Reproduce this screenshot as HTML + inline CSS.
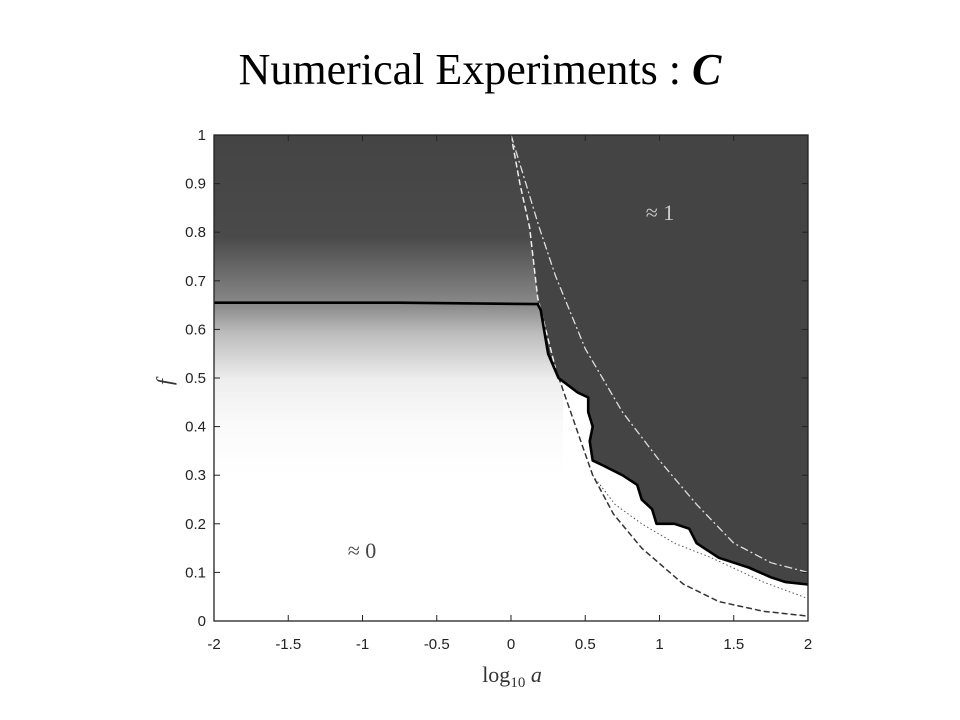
<!DOCTYPE html>
<html><head><meta charset="utf-8"><style>
body{margin:0;background:#fff;width:960px;height:720px;overflow:hidden}
svg{display:block}
.tk{font-family:"Liberation Sans",sans-serif;font-size:15px;fill:#222}
</style></head><body>
<svg id="chart" width="960" height="720" xmlns="http://www.w3.org/2000/svg">
<defs>
<linearGradient id="g" x1="0" y1="0" x2="0" y2="1">
<stop offset="0" stop-color="#444"/>
<stop offset="0.3" stop-color="#4a4a4a"/>
<stop offset="0.5" stop-color="#8a8a8a"/>
<stop offset="0.58" stop-color="#bbb"/>
<stop offset="0.72" stop-color="#eee"/>
<stop offset="0.85" stop-color="#fafafa"/>
<stop offset="1" stop-color="#fff"/>
</linearGradient>
</defs>
<text x="480" y="84" text-anchor="middle" font-family="Liberation Serif,serif" font-size="44">Numerical Experiments : <tspan font-weight="bold" font-style="italic">C</tspan></text>
<g id="plot"></g>
</svg>
<script>
const xTicks=[-2,-1.5,-1,-0.5,0,0.5,1,1.5,2];
const yTicks=[0,0.1,0.2,0.3,0.4,0.5,0.6,0.7,0.8,0.9,1];
const boundaryX=[-2,-0.75,0.18,0.2,0.25,0.32,0.45,0.52,0.52,0.55,0.53,0.55,0.62,0.75,0.85,0.88,0.95,0.98,1.1,1.2,1.25,1.3,1.4,1.5,1.6,1.75,1.85,2];
const boundaryF=[0.655,0.655,0.652,0.64,0.55,0.5,0.47,0.46,0.43,0.40,0.37,0.33,0.32,0.30,0.28,0.25,0.23,0.2,0.2,0.19,0.16,0.15,0.13,0.12,0.11,0.09,0.08,0.075];
const dashedX=[0,0.06,0.125,0.18,0.3,0.47,0.55,0.69,0.88,1.16,1.4,1.7,2];
const dashedF=[1,0.9,0.81,0.665,0.52,0.37,0.30,0.22,0.15,0.076,0.04,0.02,0.01];
const dashDotX=[0,0.1,0.19,0.3,0.5,0.75,1,1.25,1.5,1.75,2];
const dashDotF=[1,0.9,0.81,0.71,0.56,0.43,0.33,0.24,0.16,0.12,0.1];
const dottedX=[0.55,0.7,0.88,1.1,1.35,1.7,2];
const dottedF=[0.30,0.24,0.2,0.16,0.13,0.08,0.046];
const L=214,R=808,T=135,B=621;
const sx=v=>L+(v+2)/4*(R-L), sy=v=>B-v*(B-T);
const NS="http://www.w3.org/2000/svg", g=document.getElementById('plot');
function mk(t,a,p){const e=document.createElementNS(NS,t);for(const k in a)e.setAttribute(k,a[k]);(p||g).appendChild(e);return e;}
const pts=(xs,fs)=>xs.map((x,i)=>sx(x).toFixed(1)+','+sy(fs[i]).toFixed(1));
let e=mk('rect',{x:L,y:T,width:R-L,height:B-T,fill:'#fff'});


e=mk('rect',{x:L,y:T,width:sx(0.35)-L,height:sy(0.3)-T,fill:'url(#g)'});


// dark region
let poly=[sx(0)+','+sy(1),sx(2)+','+sy(1)];
const bx=boundaryX.slice(2),bf=boundaryF.slice(2);
poly=poly.concat(pts(bx,bf).reverse());
poly=poly.concat(pts(dashedX.slice(0,4),dashedF.slice(0,4)).reverse());
e=mk('polygon',{points:poly.join(' '),fill:'#444'});


e=mk('polyline',{points:pts(dashDotX,dashDotF).join(' '),fill:'none',stroke:'#ddd','stroke-width':1.3,'stroke-dasharray':'8 3 2 3'});


e=mk('polyline',{points:pts(dashedX.slice(0,5),dashedF.slice(0,5)).join(' '),fill:'none',stroke:'#eee','stroke-width':1.5,'stroke-dasharray':'6 3'});


e=mk('polyline',{points:pts(dashedX.slice(4),dashedF.slice(4)).join(' '),fill:'none',stroke:'#333','stroke-width':1.5,'stroke-dasharray':'6 3'});


e=mk('polyline',{points:pts(dottedX,dottedF).join(' '),fill:'none',stroke:'#555','stroke-width':1,'stroke-dasharray':'1.5 2.5'});


e=mk('polyline',{points:pts(boundaryX,boundaryF).join(' '),fill:'none',stroke:'#000','stroke-width':2.6,'stroke-linejoin':'round'});


e=mk('rect',{x:L,y:T,width:R-L,height:B-T,fill:'none',stroke:'#222','stroke-width':1.3});


xTicks.forEach(v=>{
  const x=sx(v);
  mk('line',{x1:x,y1:B,x2:x,y2:B-6,stroke:'#222'});
  mk('line',{x1:x,y1:T,x2:x,y2:T+6,stroke:'#222'});
  const t=mk('text',{x:x,y:B+28,'text-anchor':'middle',class:'tk'});t.textContent=v;
  
  
});
yTicks.forEach(v=>{
  const y=sy(v);
  mk('line',{x1:L,y1:y,x2:L+6,y2:y,stroke:'#222'});
  mk('line',{x1:R,y1:y,x2:R-6,y2:y,stroke:'#222'});
  const t=mk('text',{x:L-8,y:y+5,'text-anchor':'end',class:'tk'});t.textContent=v;
  
  
});
let t=mk('text',{x:512,y:682,'text-anchor':'middle','font-family':'Liberation Serif,serif','font-size':22,fill:'#333'});
t.innerHTML='log<tspan font-size="15" dy="5">10</tspan><tspan dy="-5" font-style="italic"> a</tspan>';


t=mk('text',{x:172,y:382,'text-anchor':'middle','font-family':'Liberation Serif,serif','font-size':22,'font-style':'italic',fill:'#333',transform:'rotate(-90 172 382)'});
t.textContent='f';


t=mk('text',{x:660,y:220,'text-anchor':'middle','font-family':'Liberation Serif,serif','font-size':22,fill:'#ccc'});
t.textContent='≈ 1';


t=mk('text',{x:362,y:558,'text-anchor':'middle','font-family':'Liberation Serif,serif','font-size':22,fill:'#444'});
t.textContent='≈ 0';


</script>
</body></html>
